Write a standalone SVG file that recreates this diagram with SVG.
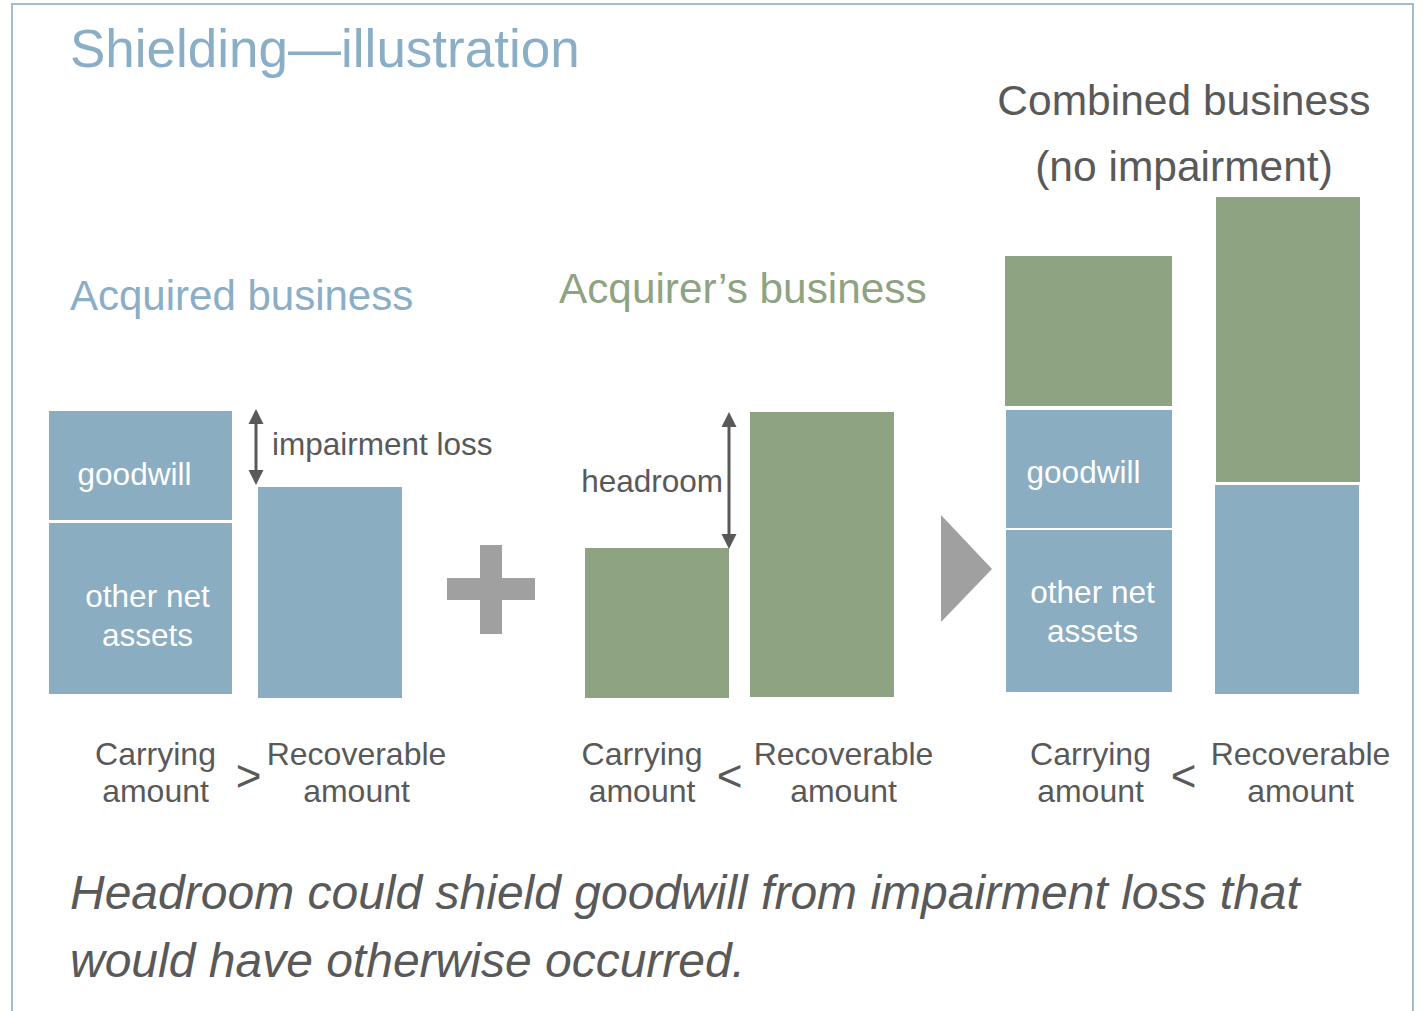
<svg xmlns="http://www.w3.org/2000/svg" width="1422" height="1011" viewBox="0 0 1422 1011">
<style>
text{font-family:"Liberation Sans",Arial,sans-serif}
.blue{fill:#8badc2}
.green{fill:#8da382}
.gray{fill:#a0a0a0}
.wt{fill:#ffffff;font-size:31.5px;text-anchor:middle}
.lbl{fill:#595959;font-size:32px;text-anchor:middle}
.cmp{fill:#595959;font-size:44px;text-anchor:middle}
.note{fill:#595959;font-size:31.5px}
.arrow{stroke:#595959;stroke-width:3;fill:none}
.head{fill:#595959}
</style>
<rect x="0" y="0" width="1422" height="1011" fill="#ffffff"/>
<path d="M12,1011 V4 H1413 V1011" fill="none" stroke="#a3bccd" stroke-width="2"/>
<g id="title">
<text x="70" y="67" font-size="53" fill="#8aaec5">Shielding—illustration</text>
</g>
<g id="heading-acquired">
<text x="70" y="310" font-size="42" fill="#8aaec5">Acquired business</text>
</g>
<g id="heading-acquirer">
<text x="559" y="303" font-size="42.3" fill="#8da382">Acquirer’s business</text>
</g>
<g id="heading-combined">
<text x="1184" y="115" font-size="42.5" fill="#595959" text-anchor="middle">Combined business</text>
<text x="1184" y="181" font-size="42.5" fill="#595959" text-anchor="middle">(no impairment)</text>
</g>
<g id="acquired-carrying">
<rect class="blue" x="49" y="411" width="183" height="109"/>
<text class="wt" x="134.5" y="485">goodwill</text>
<rect class="blue" x="49" y="523" width="183" height="171"/>
<text class="wt" x="147.5" y="607">other net</text>
<text class="wt" x="147.5" y="646">assets</text>
</g>
<g id="acquired-recoverable">
<rect class="blue" x="258" y="487" width="144" height="211"/>
</g>
<g id="plus">
<rect class="gray" x="480" y="545" width="22" height="89"/>
<rect class="gray" x="447" y="578" width="88" height="22"/>
</g>
<g id="acquirer-carrying">
<rect class="green" x="585" y="548" width="144" height="150"/>
</g>
<g id="acquirer-recoverable">
<rect class="green" x="750" y="412" width="144" height="285"/>
</g>
<g id="triangle">
<polygon class="gray" points="941,515 992,569 941,622"/>
</g>
<g id="combined-carrying">
<rect class="green" x="1005" y="256" width="167" height="150"/>
<rect class="blue" x="1006" y="410" width="166" height="118"/>
<text class="wt" x="1083.5" y="483">goodwill</text>
<rect class="blue" x="1006" y="530" width="166" height="162"/>
<text class="wt" x="1092.5" y="603">other net</text>
<text class="wt" x="1092.5" y="642">assets</text>
</g>
<g id="combined-recoverable">
<rect class="green" x="1216" y="197" width="144" height="285"/>
<rect class="blue" x="1215" y="485" width="144" height="209"/>
</g>
<g id="connectors">
<line class="arrow" x1="256" y1="420" x2="256" y2="474"/>
<polygon class="head" points="256,409 248.5,424 263.5,424"/>
<polygon class="head" points="256,485 248.5,470 263.5,470"/>
<line class="arrow" x1="729" y1="423" x2="729" y2="538"/>
<polygon class="head" points="729,412 721.5,427 736.5,427"/>
<polygon class="head" points="729,549 721.5,534 736.5,534"/>
</g>
<g id="label-impairment">
<text class="note" x="272" y="455">impairment loss</text>
</g>
<g id="label-headroom">
<text class="note" x="723" y="492" text-anchor="end">headroom</text>
</g>
<g id="compare-acquired">
<text class="lbl" x="155.5" y="765">Carrying</text>
<text class="lbl" x="155.5" y="802">amount</text>
<text class="cmp" x="248.5" y="791">&gt;</text>
<text class="lbl" x="356.5" y="765">Recoverable</text>
<text class="lbl" x="356.5" y="802">amount</text>
</g>
<g id="compare-acquirer">
<text class="lbl" x="642" y="765">Carrying</text>
<text class="lbl" x="642" y="802">amount</text>
<text class="cmp" x="729.5" y="791">&lt;</text>
<text class="lbl" x="843.5" y="765">Recoverable</text>
<text class="lbl" x="843.5" y="802">amount</text>
</g>
<g id="compare-combined">
<text class="lbl" x="1090.5" y="765">Carrying</text>
<text class="lbl" x="1090.5" y="802">amount</text>
<text class="cmp" x="1183.5" y="791">&lt;</text>
<text class="lbl" x="1300.5" y="765">Recoverable</text>
<text class="lbl" x="1300.5" y="802">amount</text>
</g>
<g id="conclusion">
<text x="70" y="909" font-size="48" font-style="italic" fill="#595959">Headroom could shield goodwill from impairment loss that</text>
<text x="70" y="977" font-size="48" font-style="italic" fill="#595959">would have otherwise occurred.</text>
</g>
</svg>
